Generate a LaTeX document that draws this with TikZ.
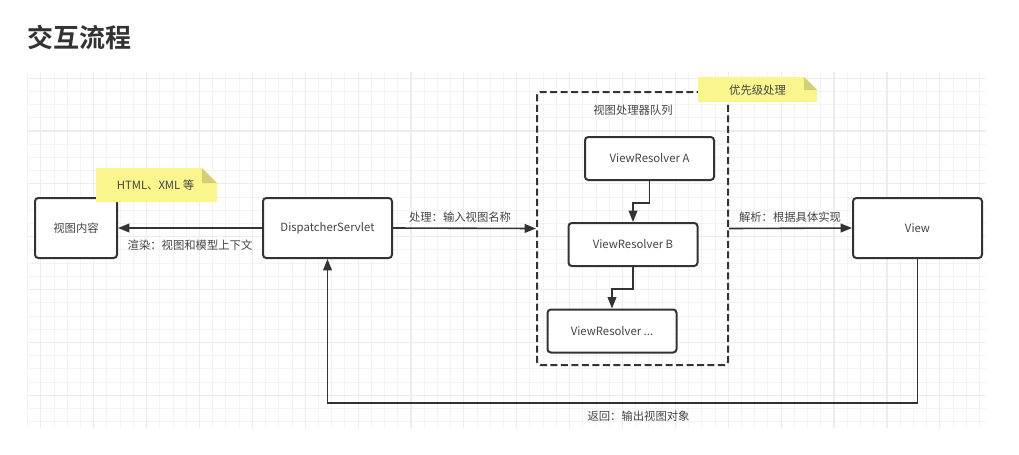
\documentclass[tikz,border=0pt]{standalone}
\usepackage{fontspec}
\setmainfont{Noto Sans CJK SC}[BoldFont={Noto Sans CJK SC Bold}]
\usetikzlibrary{arrows.meta}
\definecolor{linegray}{HTML}{333333}
\definecolor{textgray}{HTML}{444444}
\definecolor{gridminor}{HTML}{F3F3F3}
\definecolor{gridmajor}{HTML}{ECECEC}
\definecolor{noteyellow}{HTML}{FAF58C}
\definecolor{notefold}{HTML}{D3CE78}
\tikzset{
  box/.style={draw=linegray, line width=1.5pt, rounded corners=2.5pt, fill=white,
    text=textgray, font=\fontsize{8.5pt}{10pt}\selectfont},
  bigbox/.style={box, minimum width=96.75pt, minimum height=45pt},
  resolver/.style={box, minimum width=96.75pt, minimum height=32.25pt},
  arr/.style={draw=linegray, line width=1.2pt, -{Triangle[length=8.5pt,width=6.5pt]}},
  lbl/.style={text=textgray, font=\fontsize{8.5pt}{10pt}\selectfont, inner sep=1pt},
}
\begin{document}
\begin{tikzpicture}[x=0.75pt,y=-0.75pt]
	\useasboundingbox (0,0) rectangle (1019,454);
	% background grid
	\foreach \i in {0,...,72}
		\draw[gridminor, line width=0.75pt] ({27.6+13.22*\i},71.7) -- ({27.6+13.22*\i},428);
	\foreach \j in {0,...,26}
		\draw[gridminor, line width=0.75pt] (27.6,{78.1+13.22*\j}) -- (986,{78.1+13.22*\j});
	\foreach \i in {1,5,...,69}
		\draw[gridmajor, line width=0.9pt] ({27.6+13.22*\i},71.7) -- ({27.6+13.22*\i},428);
	\foreach \j in {0,4,...,24}
		\draw[gridmajor, line width=0.9pt] (27.6,{78.1+13.22*\j}) -- (986,{78.1+13.22*\j});
	\node[anchor=west, inner sep=0pt, text=linegray, font=\fontsize{19.5pt}{22pt}\selectfont\bfseries] (title) at (27,37.5) {交互流程};
	% boxes
	\node[box, minimum width=61.5pt, minimum height=45pt] (content) at (76,228) {视图内容};
	\node[bigbox] (ds) at (327.5,228) {DispatcherServlet};
	\node[bigbox] (view) at (917.5,228) {View};
	\node[draw=linegray, line width=1.5pt, dash pattern=on 5.25pt off 2.6pt, rounded corners=2.5pt,
		minimum width=143.25pt, minimum height=204.75pt] (queue) at (632.5,228.5) {};
	\node[lbl] (queuetitle) at (633,110) {视图处理器队列};
	\node[resolver] (ra) at (649.5,158.5) {ViewResolver A};
	\node[resolver] (rb) at (633,244.5) {ViewResolver B};
	\node[resolver] (rc) at (612,331) {ViewResolver ...};
	% connectors
	\draw[arr] (ds.west) -- (content.east);
	\node[lbl] (render) at (190,245) {渲染：视图和模型上下文};
	\draw[arr] (ds.east) -- (queue.west);
	\node[lbl] (handle) at (460,217) {处理：输入视图名称};
	\draw[arr] (queue.east) -- (view.west);
	\node[lbl] (parse) at (790,217) {解析：根据具体实现};
	\draw[arr] (ra.south) -- ++(0,22) -| (rb.north);
	\draw[arr] (rb.south) -- ++(0,22) -| (rc.north);
	\draw[arr] (view.south) -- ++(0,144) -| (ds.south);
	\node[lbl] (back) at (638.5,416) {返回：输出视图对象};
	% notes
	\fill[noteyellow] (96,168) -- (202,168) -- (217,183) -- (217,202) -- (96,202) -- cycle;
	\fill[notefold] (202,168) -- (217,183) -- (202,183) -- cycle;
	\node[lbl] (note1) at (155.5,185) {HTML、XML 等};
	\fill[noteyellow] (698,77) -- (804,77) -- (817,90) -- (817,102) -- (698,102) -- cycle;
	\fill[notefold] (804,77) -- (817,90) -- (804,90) -- cycle;
	\node[lbl] (note2) at (757.5,90) {优先级处理};
\end{tikzpicture}
\end{document}
